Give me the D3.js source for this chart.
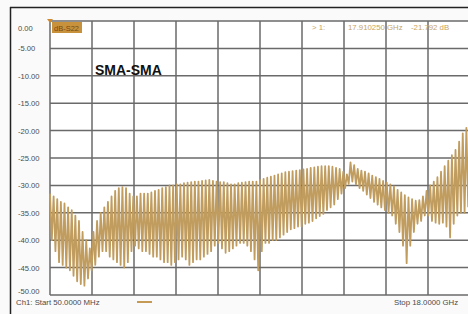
<!DOCTYPE html>
<html><head><meta charset="utf-8">
<script src="https://cdn.jsdelivr.net/npm/d3@7"></script>
<style>html,body{margin:0;padding:0;background:#fff;overflow:hidden}</style>
</head><body>
<script>
// Sweep settings
const startGHz = 0.05, stopGHz = 18.0;
const yTicks = [0,-5,-10,-15,-20,-25,-30,-35,-40,-45,-50];
const xDivisions = [0,1,2,3,4,5,6,7,8,9,10];
// Peak (high) and trough (low) of each ripple cycle, dB
const highs = [-31.5,-32,-32.5,-33,-33.3,-34,-34.5,-35.5,-36.5,-38.5,-40,-41.5,-38.5,-36.5,-35,-34,-33,-32,-31,-30.5,
 -30.3,-30.5,-31.5,-32,-32,-31.5,-31.5,-31.5,-31.3,-31,-30.8,-30.5,-30.3,-30,-30,-29.8,-29.8,-29.6,-29.5,-29.4,
 -29.3,-29.3,-29.2,-29.1,-29,-29.2,-29.3,-29.4,-29.4,-29.6,-29.8,-29.8,-29.6,-29.5,-29.4,-29.3,-29.3,-29.3,-29,-28.8,
 -28.6,-28.4,-28.2,-28,-27.8,-27.6,-27.5,-27.4,-27.3,-27.2,-27.1,-27,-26.8,-26.7,-26.6,-26.5,-26.5,-26.5,-26.6,-26.8,
 -27,-27.5,-28,-25.8,-26.3,-27,-27.3,-27.5,-27.8,-28.2,-28.5,-28.8,-29.2,-29.5,-29.8,-30.2,-30.8,-31.3,-31.8,-32.2,
 -32.5,-32.8,-32.7,-32,-31,-30,-29.3,-28.5,-27.5,-26.5,-25.5,-24.5,-23.5,-22,-20.5,-19.5];
const lows = [-40,-42,-44,-44.5,-45,-45.5,-46.5,-47.5,-48,-48.3,-47,-45.5,-44.5,-43,-42,-42,-43,-43.5,-44,-44.5,
 -45,-44,-42,-41,-41.5,-42,-42,-42.5,-43,-43,-43.5,-44,-44,-44.5,-44,-43.5,-43,-43.5,-44.5,-44,
 -43.5,-43.5,-43,-42.5,-42,-41,-40.5,-41.5,-42.3,-42,-41.5,-41,-40.5,-40.5,-41,-42,-43.5,-45.5,-42,-40.5,
 -40.5,-40,-40,-39.5,-39,-38.5,-38,-37.8,-37.5,-37.5,-37,-36.8,-36.5,-36,-35.6,-35.2,-34.5,-34,-33.5,-32.5,
 -31.5,-30.5,-29.7,-29.3,-29.8,-30.5,-31,-31.7,-32.3,-33,-33.5,-34,-34.5,-35,-35.5,-37,-38.5,-41,-44.2,-41,
 -38.5,-37,-36.5,-35.5,-35.5,-36.5,-36.8,-37,-36.8,-37.5,-39.5,-37,-35.5,-35,-35,-34];

const W = 468, H = 314;
const plot = {x0: 50, x1: 470, y0: 21, y1: 295};

const svg = d3.select("body").append("svg").attr("width", W).attr("height", H)
  .style("font-family", "Liberation Sans, Arial, sans-serif");

svg.append("rect").attr("width", W).attr("height", H).attr("fill", "#fafafa");
// outer frame
svg.append("line").attr("x1", 10).attr("x2", W).attr("y1", 7.5).attr("y2", 7.5).attr("stroke", "#222").attr("stroke-width", 1.5);
svg.append("line").attr("x1", 10.5).attr("x2", 10.5).attr("y1", 7).attr("y2", H).attr("stroke", "#222").attr("stroke-width", 1.5);

svg.append("rect").attr("x", plot.x0).attr("y", plot.y0).attr("width", plot.x1 - plot.x0).attr("height", plot.y1 - plot.y0).attr("fill", "#fff");

const y = d3.scaleLinear().domain([-50, 0]).range([plot.y1, plot.y0]);
const xd = d3.scaleLinear().domain([0, 10]).range([plot.x0, plot.x1]);
const x = d3.scaleLinear().domain([startGHz, stopGHz]).range([plot.x0, plot.x1]);

// grid
svg.append("g").selectAll("line").data(yTicks).join("line")
  .attr("x1", plot.x0).attr("x2", plot.x1).attr("y1", d => y(d)).attr("y2", d => y(d))
  .attr("stroke", "#6a6a6a").attr("stroke-width", 1.5);
svg.append("g").selectAll("line").data(xDivisions).join("line")
  .attr("x1", d => xd(d)).attr("x2", d => xd(d)).attr("y1", plot.y0).attr("y2", plot.y1)
  .attr("stroke", "#6a6a6a").attr("stroke-width", 1.5);

// y labels
svg.append("g").selectAll("text").data(yTicks).join("text")
  .attr("x", 18)
  .attr("y", d => d === 0 ? y(d) + 10 : (d === -50 ? y(d) - 1 : y(d) + 3))
  .attr("font-size", 7.6).attr("fill", "#4a4a4a")
  .text(d => d.toFixed(2));

// trace
const n = highs.length;
const step = (stopGHz - startGHz) / n;
const pts = [];
for (let i = 0; i < n; i++) {
  pts.push([startGHz + i * step, highs[i]]);
  pts.push([startGHz + (i + 0.5) * step, lows[i]]);
}
svg.append("path").datum(pts)
  .attr("d", d3.line().x(d => x(d[0])).y(d => y(d[1])))
  .attr("fill", "none").attr("stroke", "#c09c5f").attr("stroke-width", 1.8).attr("stroke-linejoin", "round");

// title
svg.append("text").attr("x", 95).attr("y", 75).attr("font-size", 14).attr("font-weight", "bold")
  .attr("fill", "#111").text("SMA-SMA");

// marker label
svg.append("rect").attr("x", 52).attr("y", 22).attr("width", 30).attr("height", 11).attr("fill", "#c8923c");
svg.append("text").attr("x", 54).attr("y", 30.5).attr("font-size", 7.5).attr("fill", "#7a4a12").text("dB-S22");
svg.append("path").attr("d", "M47,19 L53,19 L50,23 Z").attr("fill", "#d08a30");

// marker readout
const ro = svg.append("g").attr("font-size", 7.8).attr("fill", "#c9a461");
ro.append("text").attr("x", 312).attr("y", 30).text("> 1:");
ro.append("text").attr("x", 348).attr("y", 30).text("17.910250 GHz");
ro.append("text").attr("x", 411).attr("y", 30).text("-21.792 dB");

// footer
const ft = svg.append("g").attr("font-size", 7.8).attr("fill", "#4a4a4a");
ft.append("text").attr("x", 16).attr("y", 305).text("Ch1: Start 50.0000 MHz");
svg.append("line").attr("x1", 137).attr("x2", 152).attr("y1", 302).attr("y2", 302).attr("stroke", "#c49a55").attr("stroke-width", 2);
ft.append("text").attr("x", 394).attr("y", 305).text("Stop 18.0000 GHz");
</script>
</body></html>
